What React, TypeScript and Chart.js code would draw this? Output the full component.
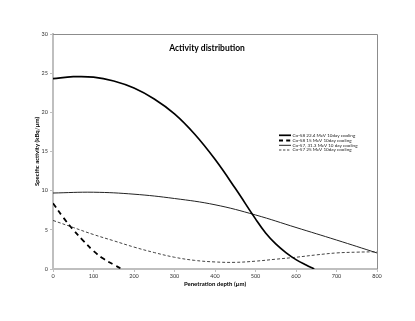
import React, { useEffect, useRef } from "react";
import { Chart, registerables } from "chart.js";

Chart.register(...registerables);

const chartTitle = "Activity distribution";
const xTitle = "Penetration depth (µm)";
const yTitle = "Specific activity (kBq/µm)";

const seriesNames = [
  "Co-58 22.4 MeV 10day cooling",
  "Co-58 15 MeV 10day cooling",
  "Co-57, 31.3 MeV 10 day cooling",
  "Co-57 25 MeV 10day cooling",
];

const co58a_depth = [0, 50, 100, 150, 200, 250, 300, 350, 400, 450, 500, 525, 550, 575, 600, 625, 645];
const co58a_act = [24.3, 24.55, 24.5, 24.0, 23.1, 21.7, 19.8, 17.2, 14.0, 10.3, 6.4, 4.6, 3.2, 2.1, 1.2, 0.5, 0];

const co58b_depth = [0, 25, 50, 75, 100, 125, 150, 170];
const co58b_act = [8.4, 6.6, 5.0, 3.6, 2.3, 1.3, 0.55, 0];

const co57a_depth = [0, 100, 200, 300, 400, 500, 600, 700, 800];
const co57a_act = [9.7, 9.8, 9.55, 9.0, 8.2, 6.9, 5.3, 3.7, 2.05];

const co57b_depth = [0, 50, 100, 150, 200, 250, 300, 350, 400, 450, 500, 550, 600, 650, 700, 750, 800];
const co57b_act = [6.2, 5.3, 4.4, 3.6, 2.8, 2.1, 1.5, 1.1, 0.9, 0.85, 1.0, 1.25, 1.5, 1.8, 2.05, 2.15, 2.2];

const xTicks = [0, 100, 200, 300, 400, 500, 600, 700, 800];
const yTicks = [0, 5, 10, 15, 20, 25, 30];

const pts = (xs: number[], ys: number[]) => xs.map((x, i) => ({ x, y: ys[i] }));

const FONT = "Lato, 'Liberation Sans', sans-serif";

const framePlugin = {
  id: "frame",
  afterDatasetsDraw(chart: any) {
    const { ctx, chartArea: a } = chart;
    ctx.save();
    ctx.strokeStyle = "#8c8c8c";
    ctx.lineWidth = 1;
    ctx.beginPath();
    ctx.moveTo(a.left, a.top + 0.5);
    ctx.lineTo(a.right + 0.5, a.top + 0.5);
    ctx.lineTo(a.right + 0.5, a.bottom);
    ctx.stroke();

    // chart title inside plot
    ctx.fillStyle = "#000";
    ctx.font = `bold 8.5px ${FONT}`;
    ctx.textAlign = "center";
    ctx.textBaseline = "middle";
    ctx.fillText(chartTitle, 207, 48);

    // axis titles
    ctx.font = `bold 6px ${FONT}`;
    ctx.fillText(xTitle, (a.left + a.right) / 2, 284.5);
    ctx.save();
    ctx.translate(37, (a.top + a.bottom) / 2);
    ctx.rotate(-Math.PI / 2);
    ctx.fillText(yTitle, 0, 0);
    ctx.restore();

    // legend inside plot
    const rows = [135.3, 140.5, 145.3, 150];
    const ds = chart.data.datasets;
    ctx.font = `4.6px ${FONT}`;
    ctx.textAlign = "left";
    rows.forEach((y, i) => {
      const d = ds[i];
      ctx.strokeStyle = d.borderColor;
      ctx.lineWidth = d.borderWidth;
      ctx.setLineDash(d.borderDash ? d.borderDash.map((v: number) => v * 0.8) : []);
      ctx.beginPath();
      ctx.moveTo(279, y);
      ctx.lineTo(291, y);
      ctx.stroke();
      ctx.setLineDash([]);
      ctx.fillStyle = "#222";
      ctx.fillText(seriesNames[i], 292.5, y);
    });
    ctx.restore();
  },
};

export default function App() {
  const ref = useRef<HTMLCanvasElement>(null);
  useEffect(() => {
    if (!ref.current) return;
    const common = { pointRadius: 0, tension: 0.4 };
    const chart = new Chart(ref.current, {
      type: "line",
      data: {
        datasets: [
          { label: seriesNames[0], data: pts(co58a_depth, co58a_act), borderColor: "#000", borderWidth: 1.7, ...common },
          { label: seriesNames[1], data: pts(co58b_depth, co58b_act), borderColor: "#000", borderWidth: 1.8, borderDash: [5, 4], ...common },
          { label: seriesNames[2], data: pts(co57a_depth, co57a_act), borderColor: "#222", borderWidth: 1, ...common },
          { label: seriesNames[3], data: pts(co57b_depth, co57b_act), borderColor: "#444", borderWidth: 1, borderDash: [3, 2], ...common },
        ] as any,
      },
      options: {
        animation: false,
        responsive: true,
        maintainAspectRatio: false,
        layout: { padding: { left: 0, top: 34, right: 38, bottom: 0 } },
        plugins: { legend: { display: false }, tooltip: { enabled: false } },
        scales: {
          x: {
            type: "linear",
            min: 0,
            max: 800,
            afterBuildTicks: (s: any) => {
              s.ticks = xTicks.map((v) => ({ value: v }));
            },
            afterFit: (s: any) => {
              s.height = 52;
            },
            grid: { display: true, drawOnChartArea: false, drawTicks: true, tickLength: 3, color: "#bfbfbf" },
            border: { display: true, color: "#bfbfbf", width: 2 },
            ticks: { font: { size: 5.5, family: FONT }, color: "#333", padding: 1, maxRotation: 0 },
          },
          y: {
            type: "linear",
            min: 0,
            max: 30,
            afterBuildTicks: (s: any) => {
              s.ticks = yTicks.map((v) => ({ value: v }));
            },
            afterFit: (s: any) => {
              s.width = 53;
            },
            grid: { display: true, drawOnChartArea: false, drawTicks: true, tickLength: 3, color: "#bfbfbf" },
            border: { display: true, color: "#bfbfbf", width: 2 },
            ticks: { font: { size: 5.5, family: FONT }, color: "#333", padding: 2 },
          },
        },
      } as any,
      plugins: [framePlugin],
    });
    return () => chart.destroy();
  }, []);
  return (
    <div style={{ position: "fixed", left: 0, top: 0, width: 415, height: 321, background: "#fff" }}>
      <canvas ref={ref} />
    </div>
  );
}
